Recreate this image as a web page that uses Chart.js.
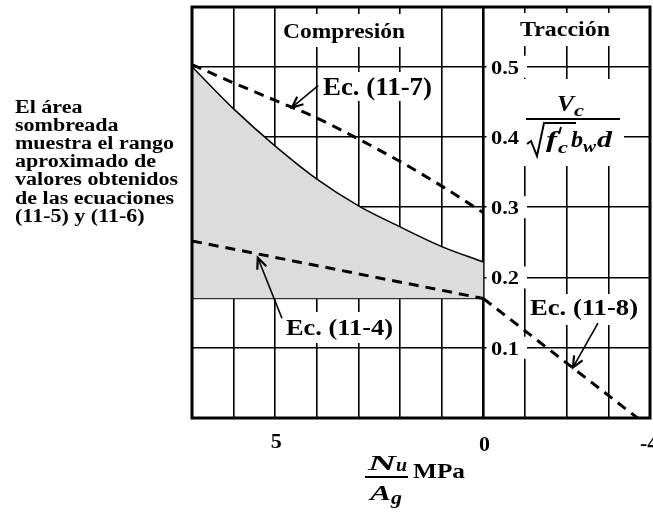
<!DOCTYPE html>
<html>
<head>
<meta charset="utf-8">
<script src="https://cdn.jsdelivr.net/npm/chart.js@4"></script>
<style>
  html, body { margin: 0; padding: 0; background: #fff; }
  #c { display: block; }
</style>
</head>
<body>
<canvas id="c" width="653" height="512"></canvas>
<script>
// datos
const xGrid = [7, 6, 5, 4, 3, 2, 1, 0, -1, -2, -3, -4];
const xLabelValues = [5, 0, -4];
const xLabelTexts = ['5', '0', '-4'];
const yGrid = [0, 0.1, 0.2, 0.3, 0.4, 0.5];
const yLabelValues = [0.5, 0.4, 0.3, 0.2, 0.1];
const yLabelTexts = ['0.5', '0.4', '0.3', '0.2', '0.1'];

const nuAg = [7, 6, 5, 4, 3, 2, 1, 0];
const ec117 = [0.503, 0.477, 0.452, 0.427, 0.397, 0.365, 0.330, 0.292];
const shadeTop = [0.5, 0.44, 0.387, 0.34, 0.302, 0.272, 0.244, 0.222];
const shadeBase = 0.17;
const ec114X = [7, 0];
const ec114 = [0.252, 0.17];
const ec118X = [0, -3.7];
const ec118 = [0.17, 0.0];

// flechas: [cola, punta] en coordenadas de datos
const arrow117 = [[3.97, 0.473], [4.6, 0.442]];
const arrow114 = [[4.84, 0.142], [5.42, 0.228]];
const arrow118 = [[-2.75, 0.135], [-2.15, 0.072]];

const pts = (xs, ys) => xs.map((x, i) => ({ x: x, y: ys[i] }));
const SERIF = '"Liberation Serif", "Times New Roman", serif';

function txt(ctx, s, x, y, size, opt) {
  opt = opt || {};
  ctx.font = (opt.italic ? 'italic ' : '') + 'bold ' + size + 'px ' + SERIF;
  const w = ctx.measureText(s).width;
  const sx = opt.w ? opt.w / w : (opt.sx || 1);
  let x0 = x;
  if (opt.center) x0 = x - w * sx / 2;
  ctx.save();
  ctx.translate(x0, y);
  ctx.scale(sx, 1);
  ctx.fillStyle = '#000';
  ctx.textAlign = 'left';
  ctx.textBaseline = 'alphabetic';
  ctx.fillText(s, 0, 0);
  ctx.restore();
}

function drawArrow(ctx, sx, sy, a) {
  const x1 = sx.getPixelForValue(a[0][0]), y1 = sy.getPixelForValue(a[0][1]);
  const x2 = sx.getPixelForValue(a[1][0]), y2 = sy.getPixelForValue(a[1][1]);
  const ang = Math.atan2(y2 - y1, x2 - x1);
  ctx.save();
  ctx.strokeStyle = '#000';
  ctx.lineWidth = 1.6;
  ctx.beginPath();
  ctx.moveTo(x1, y1);
  ctx.lineTo(x2, y2);
  ctx.stroke();
  ctx.lineWidth = 2.2;
  ctx.beginPath();
  ctx.moveTo(x2 - 12 * Math.cos(ang - 0.42), y2 - 12 * Math.sin(ang - 0.42));
  ctx.lineTo(x2, y2);
  ctx.lineTo(x2 - 12 * Math.cos(ang + 0.42), y2 - 12 * Math.sin(ang + 0.42));
  ctx.stroke();
  ctx.restore();
}

const whiteBoxes = {
  id: 'whiteBoxes',
  beforeDatasetsDraw(chart) {
    const ctx = chart.ctx, sy = chart.scales.y;
    ctx.save();
    ctx.fillStyle = '#fff';
    yLabelValues.forEach(v => {
      const py = sy.getPixelForValue(v);
      ctx.fillRect(486.5, py - 11, 40.5, 22);
    });
    ctx.fillRect(280, 14, 130, 33);   // Compresion
    ctx.fillRect(516, 13, 98, 33);    // Traccion
    ctx.fillRect(524, 79, 100, 87);   // Vc / ...
    ctx.fillRect(318, 72, 120, 29);   // Ec. (11-7)
    ctx.fillRect(283, 312, 114, 31);  // Ec. (11-4)
    ctx.fillRect(527, 294, 115, 31);  // Ec. (11-8)
    ctx.restore();
  }
};

const annotations = {
  id: 'annotations',
  afterDatasetsDraw(chart) {
    const ctx = chart.ctx, a = chart.chartArea;
    const sx = chart.scales.x, sy = chart.scales.y;

    // marco
    ctx.save();
    ctx.strokeStyle = '#000';
    ctx.lineWidth = 3;
    ctx.strokeRect(a.left, a.top, a.right - a.left, a.bottom - a.top);
    ctx.restore();

    // etiquetas del eje y dentro del grafico
    yLabelValues.forEach((v, i) => {
      txt(ctx, yLabelTexts[i], 491, sy.getPixelForValue(v) + 7, 18, { w: 28 });
    });

    txt(ctx, 'Compresión', 283, 38, 22, { w: 122 });
    txt(ctx, 'Tracción', 520, 36, 22, { w: 90 });
    txt(ctx, 'Ec. (11-7)', 323, 95, 25, { w: 109 });
    txt(ctx, 'Ec. (11-4)', 286, 335, 24, { w: 107 });
    txt(ctx, 'Ec. (11-8)', 530, 315, 24, { w: 108 });

    drawArrow(ctx, sx, sy, arrow117);
    drawArrow(ctx, sx, sy, arrow114);
    drawArrow(ctx, sx, sy, arrow118);

    // Vc / (raiz(f'c) bw d)
    txt(ctx, 'V', 557, 111, 23, { italic: true, w: 17 });
    txt(ctx, 'c', 574, 116, 17, { italic: true, w: 10 });
    ctx.save();
    ctx.strokeStyle = '#000';
    ctx.lineWidth = 2;
    ctx.beginPath();
    ctx.moveTo(526, 119);
    ctx.lineTo(620, 119);
    ctx.stroke();
    ctx.beginPath();
    ctx.moveTo(527, 144);
    ctx.lineTo(531, 141);
    ctx.lineTo(537, 156);
    ctx.lineTo(544, 123);
    ctx.lineTo(576, 123);
    ctx.stroke();
    // prima de f'c
    ctx.beginPath();
    ctx.moveTo(561, 127);
    ctx.lineTo(559, 134);
    ctx.stroke();
    ctx.restore();
    txt(ctx, 'f', 546, 147, 23, { italic: true, w: 11 });
    txt(ctx, 'c', 558, 153, 17, { italic: true, w: 10 });
    txt(ctx, 'b', 571, 147, 23, { italic: true, w: 12 });
    txt(ctx, 'w', 583, 152, 17, { italic: true, w: 13 });
    txt(ctx, 'd', 597, 147, 23, { italic: true, w: 15 });
  },
  afterDraw(chart) {
    const ctx = chart.ctx, sx = chart.scales.x;

    // etiquetas del eje x
    xLabelValues.forEach((v, i) => {
      const px = sx.getPixelForValue(v);
      if (v === -4) txt(ctx, xLabelTexts[i], px - 10, 450, 22);
      else txt(ctx, xLabelTexts[i], px + 1, v === 0 ? 451 : 448, 22, { center: true });
    });

    // Nu / Ag MPa
    txt(ctx, 'N', 368, 470, 22, { italic: true, w: 28 });
    txt(ctx, 'u', 396, 471, 18, { italic: true, w: 11 });
    ctx.save();
    ctx.strokeStyle = '#000';
    ctx.lineWidth = 2;
    ctx.beginPath();
    ctx.moveTo(365, 477);
    ctx.lineTo(408, 477);
    ctx.stroke();
    ctx.restore();
    txt(ctx, 'A', 370, 500, 22, { italic: true, w: 21 });
    txt(ctx, 'g', 391, 504, 18, { italic: true, w: 11 });
    txt(ctx, 'MPa', 413, 478, 22, { w: 52 });

    // texto de la izquierda
    const lines = ['El área', 'sombreada', 'muestra el rango', 'aproximado de',
      'valores obtenidos', 'de las ecuaciones', '(11-5) y (11-6)'];
    ctx.font = 'bold 18px ' + SERIF;
    const k = 163 / ctx.measureText('valores obtenidos').width;
    lines.forEach((s, i) => txt(ctx, s, 15, 113 + i * 18.1, 18, { sx: k }));
  }
};

const dash = [10, 7];

new Chart(document.getElementById('c'), {
  type: 'line',
  data: {
    datasets: [
      {
        label: 'Rango (11-5) y (11-6)',
        data: pts(nuAg, shadeTop),
        borderColor: '#000',
        borderWidth: 1.5,
        backgroundColor: 'rgb(220,220,220)',
        fill: { value: shadeBase },
        cubicInterpolationMode: 'monotone',
        pointRadius: 0,
        order: 10
      },
      {
        label: 'Base',
        data: pts([7, 0], [shadeBase, shadeBase]),
        borderColor: '#333',
        borderWidth: 1.3,
        pointRadius: 0,
        fill: false,
        order: 9
      },
      {
        label: 'Ec. (11-7)',
        data: pts(nuAg, ec117),
        borderColor: '#000',
        borderWidth: 3,
        borderDash: dash,
        cubicInterpolationMode: 'monotone',
        pointRadius: 0,
        fill: false,
        order: 1
      },
      {
        label: 'Ec. (11-4)',
        data: pts(ec114X, ec114),
        borderColor: '#000',
        borderWidth: 3,
        borderDash: dash,
        pointRadius: 0,
        fill: false,
        order: 1
      },
      {
        label: 'Ec. (11-8)',
        data: pts(ec118X, ec118),
        borderColor: '#000',
        borderWidth: 3,
        borderDash: dash,
        pointRadius: 0,
        fill: false,
        order: 1
      }
    ]
  },
  options: {
    responsive: false,
    animation: false,
    devicePixelRatio: 1,
    layout: { padding: { left: 192, top: 7, right: 3, bottom: 94 } },
    plugins: { legend: { display: false }, tooltip: { enabled: false } },
    scales: {
      x: {
        type: 'linear',
        reverse: true,
        min: -4,
        max: 7,
        afterBuildTicks: s => { s.ticks = xGrid.map(v => ({ value: v })); },
        ticks: { display: false },
        border: { display: false },
        grid: {
          color: '#000',
          drawTicks: false,
          lineWidth: c => (c.tick && c.tick.value === 0 ? 2.6 : 1.6)
        }
      },
      y: {
        min: 0,
        max: 0.585,
        afterBuildTicks: s => { s.ticks = yGrid.map(v => ({ value: v })); },
        ticks: { display: false },
        border: { display: false },
        grid: { color: '#000', drawTicks: false, lineWidth: 1.5 }
      }
    }
  },
  plugins: [whiteBoxes, annotations]
});
</script>
</body>
</html>
